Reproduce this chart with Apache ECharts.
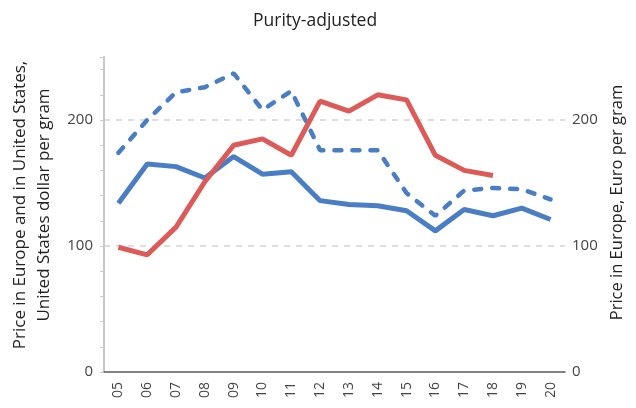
<!DOCTYPE html>
<html>
<head>
<meta charset="utf-8">
<script src="https://cdn.jsdelivr.net/npm/echarts@6/dist/echarts.min.js"></script>
<style>
  html, body { margin: 0; padding: 0; background: #fff; }
  #chart { width: 636px; height: 408px; }
</style>
</head>
<body>
<div id="chart"></div>
<script>
// Years (two-digit labels)
const years = ['05','06','07','08','09','10','11','12','13','14','15','16','17','18','19','20'];

// Purity-adjusted price, Europe, US dollar per gram
const europeUsd = [134, 165, 163, 154, 171, 157, 159, 136, 133, 132, 128, 112, 129, 124, 130, 121];
// Purity-adjusted price, United States, US dollar per gram
const unitedStatesUsd = [174, 200, 222, 226, 237, 208, 223, 176, 176, 176, 142, 124, 144, 146, 145, 137];
// Purity-adjusted price, Europe, euro per gram
const europeEur = [99, 93, 115, 151, 180, 185, 172, 215, 207, 220, 216, 172, 160, 156, null, null];

const leftTicks = [0, 100, 200];

const FONT = 'Open Sans';
const BLUE = '#4a7ec4';
const RED = '#dc5b58';

const chart = echarts.init(document.getElementById('chart'), null, { renderer: 'canvas' });

chart.setOption({
  animation: false,
  textStyle: { fontFamily: FONT },
  title: {
    text: 'Purity-adjusted',
    left: 248,
    top: 7,
    textStyle: { fontFamily: FONT, fontSize: 17.5, fontWeight: 'normal', color: '#222' }
  },
  grid: { left: 104, right: 71, top: 57, bottom: 36, containLabel: false },
  xAxis: {
    type: 'category',
    data: years,
    boundaryGap: true,
    axisLine: { lineStyle: { color: '#595959', width: 1.5 } },
    axisTick: { show: false },
    axisLabel: { rotate: 90, color: '#444', fontSize: 14, margin: 10, fontFamily: FONT }
  },
  yAxis: [
    {
      type: 'value',
      min: 0,
      max: 250,
      interval: 100,
      position: 'left',
      name: 'Price in Europe and in United States,\nUnited States dollar per gram',
      nameLocation: 'middle',
      nameGap: 46,
      nameTextStyle: { fontFamily: FONT, fontSize: 17, color: '#222', lineHeight: 24, padding: [0, 0, 0, 19] },
      axisLine: { show: true, lineStyle: { color: '#c8c8c8', width: 2 } },
      axisTick: { show: true, length: 4, lineStyle: { color: '#c8c8c8' } },
      minorTick: { show: true, splitNumber: 5, length: 4, lineStyle: { color: '#c8c8c8' } },
      axisLabel: {
        color: '#444', fontSize: 15, margin: 11, fontFamily: FONT,
        showMaxLabel: false,
        formatter: v => (leftTicks.includes(v) ? String(v) : '')
      },
      splitLine: {
        show: true,
        showMinLine: false,
        showMaxLine: false,
        lineStyle: { color: '#d4d4d4', type: [6, 6], width: 1.5 }
      }
    },
    {
      type: 'value',
      min: 0,
      max: 250,
      interval: 100,
      position: 'right',
      name: 'Price in Europe, Euro per gram',
      nameLocation: 'middle',
      nameRotate: 90,
      nameGap: 39,
      nameTextStyle: { fontFamily: FONT, fontSize: 16.5, color: '#222', padding: [0, 0, 0, 24] },
      axisLine: { show: false },
      axisTick: { show: false },
      axisLabel: {
        color: '#444', fontSize: 15, margin: 7, fontFamily: FONT,
        showMaxLabel: false,
        formatter: v => (leftTicks.includes(v) ? String(v) : '')
      },
      splitLine: { show: false }
    }
  ],
  series: [
    {
      name: 'United States, USD',
      type: 'line',
      data: unitedStatesUsd,
      yAxisIndex: 0,
      symbol: 'none',
      lineStyle: { color: BLUE, width: 4.5, type: [7, 11], cap: 'round' },
      z: 2
    },
    {
      name: 'Europe, USD',
      type: 'line',
      data: europeUsd,
      yAxisIndex: 0,
      symbol: 'none',
      lineStyle: { color: BLUE, width: 5 },
      z: 3
    },
    {
      name: 'Europe, EUR',
      type: 'line',
      data: europeEur,
      yAxisIndex: 1,
      symbol: 'none',
      connectNulls: false,
      lineStyle: { color: RED, width: 5 },
      z: 4
    }
  ]
});
</script>
</body>
</html>
